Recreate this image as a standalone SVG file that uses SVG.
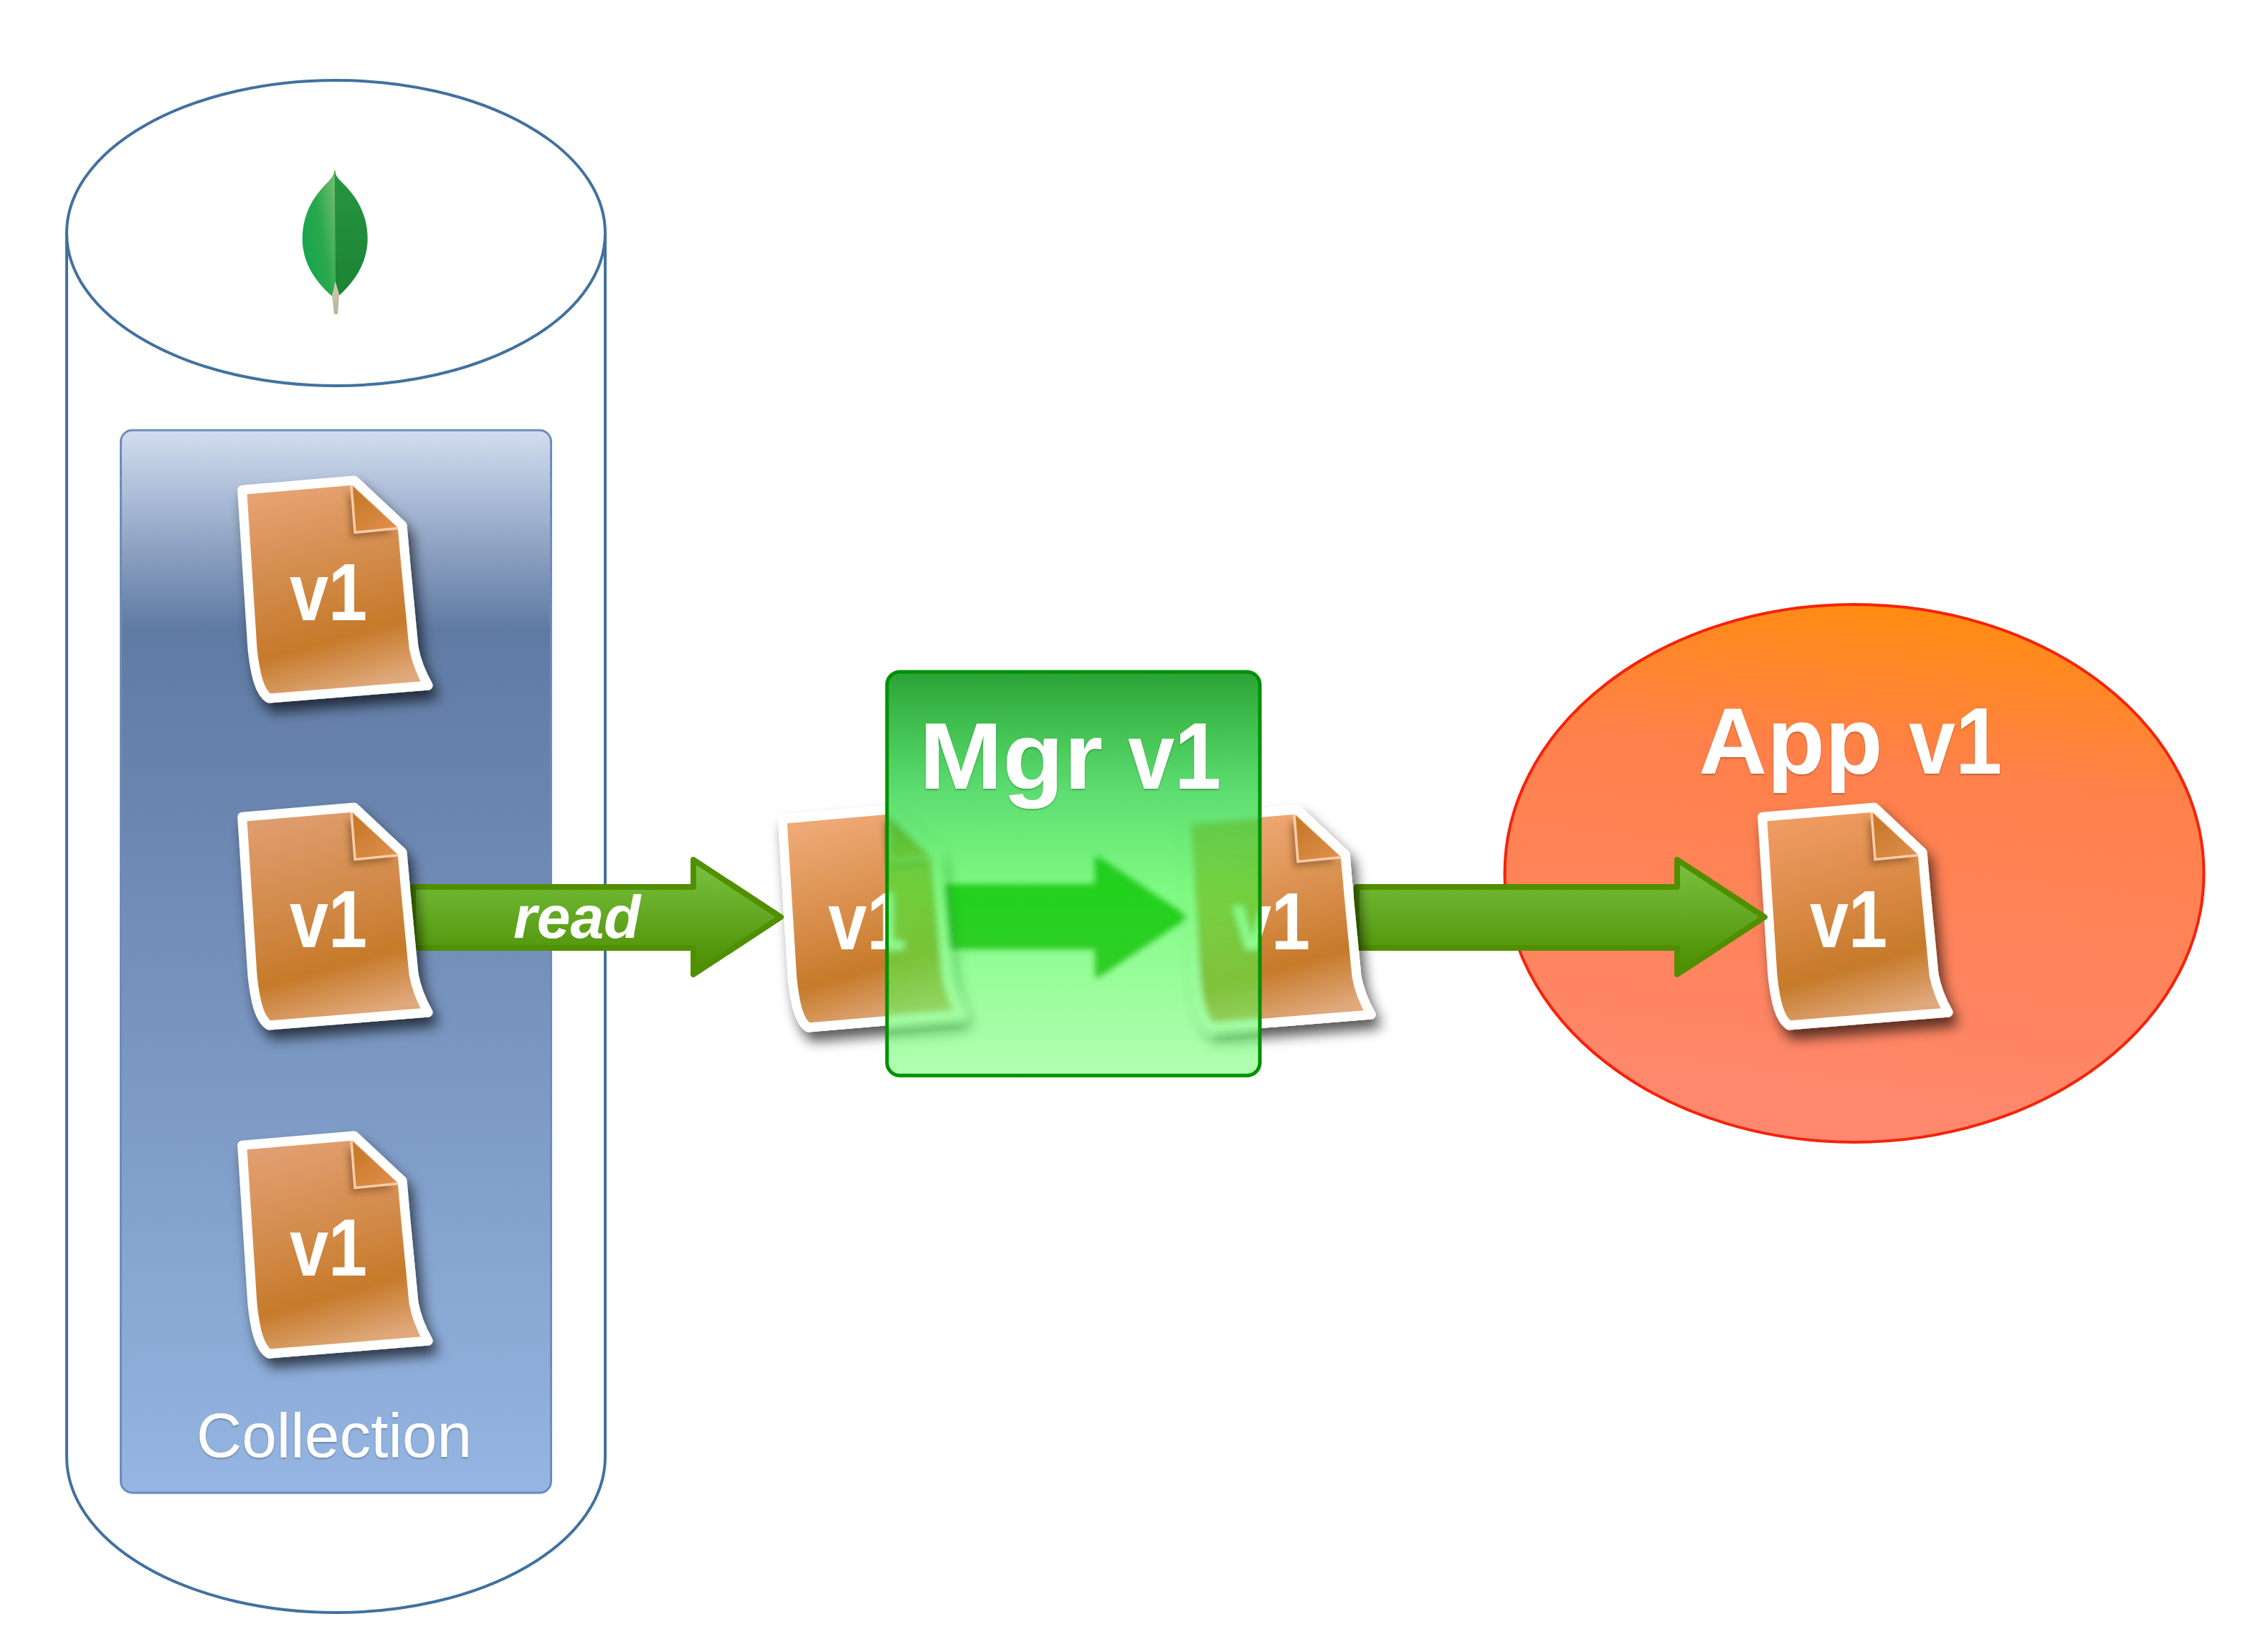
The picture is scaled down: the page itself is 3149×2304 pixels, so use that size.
<svg xmlns="http://www.w3.org/2000/svg" width="3149" height="2304" viewBox="0 0 3149 2304">
<style>
.cyl{fill:#fff;stroke:#41719f;stroke-width:4}
.lbl{font-family:"Liberation Sans",Arial,sans-serif;fill:#fff}
.b{font-weight:700}
.ver{font-size:114px}
.sheet{stroke:#fff;stroke-width:13;stroke-linejoin:round;fill:url(#docG)}
.arrow{fill:url(#arrG);stroke:#518f00;stroke-width:8;stroke-linejoin:round}
</style>
<defs>
<linearGradient id="colG" x1="0" y1="0" x2="0" y2="1">
<stop offset="0" stop-color="#d2deef"/><stop offset=".05" stop-color="#b3c3dc"/><stop offset=".187" stop-color="#5f7aa3"/><stop offset="1" stop-color="#95b5e2"/>
</linearGradient>
<linearGradient id="docG" gradientUnits="userSpaceOnUse" x1="110" y1="60" x2="190" y2="345">
<stop offset="0" stop-color="#ee9f65" stop-opacity=".88"/><stop offset=".74" stop-color="#c67a2a"/><stop offset="1" stop-color="#e0a97c"/>
</linearGradient>
<linearGradient id="foldG" gradientUnits="userSpaceOnUse" x1="200" y1="70" x2="240" y2="125">
<stop offset="0" stop-color="#c67a2a"/><stop offset="1" stop-color="#e08f4c"/>
</linearGradient>
<linearGradient id="arrG" x1="0" y1="0" x2="0" y2="1">
<stop offset="0" stop-color="#7ac341"/><stop offset="1" stop-color="#4a8c00"/>
</linearGradient>
<linearGradient id="boxG" x1="0" y1="0" x2="0" y2="1">
<stop offset="0" stop-color="#26a030" stop-opacity=".98"/><stop offset=".3" stop-color="#1fd03a" stop-opacity=".72"/><stop offset=".55" stop-color="#2cf830" stop-opacity=".6"/><stop offset="1" stop-color="#62ff62" stop-opacity=".5"/>
</linearGradient>
<linearGradient id="appG" x1=".6" y1="0" x2=".45" y2="1">
<stop offset="0" stop-color="#ff8c10"/><stop offset=".3" stop-color="#ff804a"/><stop offset="1" stop-color="#ff8870"/>
</linearGradient>
<linearGradient id="leafL" x1="0" y1=".8" x2="1" y2=".2">
<stop offset="0" stop-color="#12a54c"/><stop offset=".55" stop-color="#2aa84e"/><stop offset="1" stop-color="#6cbb6c"/>
</linearGradient>
<linearGradient id="leafR" x1="0" y1="0" x2="0" y2="1">
<stop offset="0" stop-color="#26963f"/><stop offset="1" stop-color="#1b8336"/>
</linearGradient>
<linearGradient id="stemG" x1="0" y1="0" x2="0" y2="1">
<stop offset="0" stop-color="#d2d0b4"/><stop offset="1" stop-color="#b4b298"/>
</linearGradient>
<filter id="docS" x="-20%" y="-20%" width="150%" height="150%">
<feGaussianBlur in="SourceAlpha" stdDeviation="9" result="b"/>
<feOffset in="b" dx="7" dy="13" result="o"/>
<feFlood flood-color="#000" flood-opacity=".65"/>
<feComposite in2="o" operator="in"/>
<feComposite in2="SourceAlpha" operator="out" result="s"/>
<feMerge><feMergeNode in="s"/><feMergeNode in="SourceGraphic"/></feMerge>
</filter>
<filter id="foldS" x="-40%" y="-40%" width="180%" height="180%"><feGaussianBlur stdDeviation="4"/></filter>
<filter id="txtS" x="-5%" y="-5%" width="110%" height="115%"><feDropShadow dx="0" dy="1.5" stdDeviation="1" flood-color="#000" flood-opacity=".3"/></filter>
<filter id="frost" x="1000" y="900" width="1000" height="700" filterUnits="userSpaceOnUse"><feGaussianBlur stdDeviation="4"/></filter>
<clipPath id="boxC"><rect x="1237" y="937" width="520" height="563" rx="18"/></clipPath>
<g id="sheet">
<path class="sheet" d="M37.7,63.3 L194,50 L261,112.7 C266,170 272,235 277,283 C281,305 288,320 297,336 L75,354 C62,345 56,322 52,285 Z"/>
<path d="M190,57 L195,122.7 L255,116.7" fill="#7a4a1c" fill-opacity=".55" stroke="none" filter="url(#foldS)" transform="translate(-6,8)"/>
<path d="M190,57 L195,122.7 L255,116.7 Z" fill="url(#foldG)"/>
<path d="M190,57 L195,122.7 L255,116.7" fill="none" stroke="#ffcdaa" stroke-width="3.5"/>
</g>
</defs>
<rect width="3149" height="2304" fill="#fff"/>

<g id="cylinder">
<path class="cyl" d="M93,325 V2032 A375.5,217 0 0 0 844,2032 V325"/>
<ellipse class="cyl" cx="468.5" cy="325" rx="375.5" ry="213"/>
</g>
<g id="logo">
<path d="M466.7,236 C466,248 456,254 448,264 C430,284 421.7,308 421.7,333 C421.7,368 442,395 463,413 L468,395 L468,240 Z" fill="url(#leafL)"/>
<path d="M466.7,236 C467,248 478,254 486,264 C504,284 512.7,308 512.7,333 C512.7,368 492,395 473,412 L468,395 Z" fill="url(#leafR)"/>
<path d="M467.5,392 C470,402 473,408 473,412 L471,438 L466,438 L463,413 C465,408 466,400 467.5,392 Z" fill="url(#stemG)"/>
</g>
<g id="collection">
<rect x="168.5" y="600" width="600" height="1482" rx="16" fill="url(#colG)" stroke="#6c8db9" stroke-width="3"/>
<text class="lbl" x="274" y="2032" font-size="87.5" filter="url(#txtS)">Collection</text>
</g>
<g id="app">
<ellipse cx="2586" cy="1218" rx="487.5" ry="375" fill="url(#appG)" stroke="#f5230a" stroke-width="4"/>
<text class="lbl b" y="1079" font-size="132" filter="url(#txtS)"><tspan x="2369">App</tspan><tspan x="2662" textLength="130" lengthAdjust="spacingAndGlyphs">v1</tspan></text>
</g>

<g id="doc-4" filter="url(#docS)">
<use href="#sheet" transform="translate(1055,1079) scale(.96,1)"/>
<text class="lbl b ver" x="1155" y="1324" textLength="108" lengthAdjust="spacingAndGlyphs">v1</text>
</g>
<g id="doc-6" filter="url(#docS)">
<use href="#sheet" transform="translate(2420,1076)"/>
<text class="lbl b ver" x="2524" y="1321" textLength="108" lengthAdjust="spacingAndGlyphs">v1</text>
</g>

<g id="connectors">
<path id="arrow-1" class="arrow" d="M576,1237 H967 V1199 L1089,1279 L967,1359 V1322 H576 Z"/>
<path id="arrow-3" class="arrow" d="M1892,1237 H2339 V1199 L2461,1279 L2339,1359 V1322 H1892 Z"/>
<text class="lbl b" x="716" y="1308" font-size="84" font-style="italic">read</text>
</g>

<g id="doc-1" filter="url(#docS)">
<use href="#sheet" transform="translate(300,620)"/>
<text class="lbl b ver" x="404" y="865" textLength="108" lengthAdjust="spacingAndGlyphs">v1</text>
</g>
<g id="doc-2" filter="url(#docS)">
<use href="#sheet" transform="translate(300,1076)"/>
<text class="lbl b ver" x="404" y="1321" textLength="108" lengthAdjust="spacingAndGlyphs">v1</text>
</g>
<g id="doc-3" filter="url(#docS)">
<use href="#sheet" transform="translate(300,1534)"/>
<text class="lbl b ver" x="404" y="1779" textLength="108" lengthAdjust="spacingAndGlyphs">v1</text>
</g>
<g id="doc-5" filter="url(#docS)">
<use href="#sheet" transform="translate(1615,1079)"/>
<text class="lbl b ver" x="1719" y="1324" textLength="108" lengthAdjust="spacingAndGlyphs">v1</text>
</g>

<g id="mgr">
<g clip-path="url(#boxC)">
<rect x="1237" y="937" width="520" height="563" fill="#fff"/>
<g filter="url(#frost)">
<use href="#doc-5"/>
<path d="M1300,1236 H1530 V1197 L1653,1279 L1530,1361 V1321 H1300 Z" fill="#169800" stroke="#129000" stroke-width="6" stroke-linejoin="round"/>
<use href="#doc-4"/>
</g>
</g>
<rect x="1237" y="937" width="520" height="563" rx="18" fill="url(#boxG)" stroke="#009000" stroke-width="5"/>
<text class="lbl b" y="1100" font-size="132" filter="url(#txtS)"><tspan x="1282" textLength="256" lengthAdjust="spacingAndGlyphs">Mgr</tspan><tspan x="1573" textLength="130" lengthAdjust="spacingAndGlyphs">v1</tspan></text>
</g>
</svg>
